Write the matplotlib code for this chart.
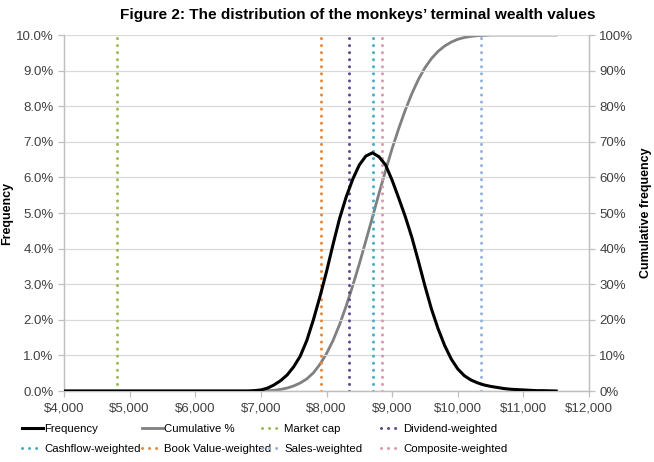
import numpy as np
import matplotlib.pyplot as plt
from matplotlib.lines import Line2D
from matplotlib.ticker import FuncFormatter

plt.rcParams['font.family'] = ['Liberation Sans', 'DejaVu Sans']

# terminal wealth ($), one point every $100
wealth = np.arange(4000, 11600, 100)

# frequency (%), zero below $6,900
freq_tail = [0.01, 0.03, 0.08, 0.17, 0.29, 0.45, 0.68, 0.98, 1.42, 2.00,
             2.65, 3.35, 4.12, 4.85, 5.45, 5.95, 6.35, 6.60, 6.69,
             6.58, 6.35, 5.92, 5.42, 4.90, 4.32, 3.65, 2.95, 2.30, 1.75,
             1.28, 0.90, 0.62, 0.43, 0.31, 0.23, 0.17, 0.13, 0.10, 0.07,
             0.05, 0.04, 0.03, 0.02, 0.01, 0.01, 0.005, 0.0]
frequency = [0.0] * (len(wealth) - len(freq_tail)) + freq_tail

# cumulative frequency (%), zero below $7,000
cum_tail = [0.02, 0.08, 0.2, 0.44, 0.83, 1.42, 2.25, 3.4, 5.1, 7.5,
            10.5, 14.2, 18.7, 23.9, 29.6, 35.7, 42.2, 48.8, 55.5, 61.9,
            68.1, 73.7, 78.9, 83.5, 87.5, 90.8, 93.4, 95.4, 96.9, 98.0,
            98.8, 99.3, 99.6, 99.8, 99.9]
cumulative = [0.0] * 30 + cum_tail
cumulative = cumulative + [100.0] * (len(wealth) - len(cumulative))

# terminal wealth of the index strategies
strategies = ['Market cap', 'Dividend-weighted', 'Cashflow-weighted',
              'Book Value-weighted', 'Sales-weighted', 'Composite-weighted']
strategy_wealth = [4800, 8350, 8705, 7920, 10350, 8850]
strategy_colors = ['#9BBB59', '#5F4B8B', '#4BACC6', '#E8883A', '#95B3D7', '#D99AA8']

fig = plt.figure(figsize=(6.54, 4.62), dpi=100)
ax = fig.add_axes([64 / 654, 1 - 391 / 462, 525 / 654, 356 / 462])
ax2 = ax.twinx()

grid_c = '#D9D9D9'
spine_c = '#BFBFBF'
text_c = '#404040'

dots = (0, (0.01, 2.3))
for name, w, c in zip(strategies, strategy_wealth, strategy_colors):
    ax.plot([w, w], [0, 10], color=c, lw=2.2, linestyle=dots,
            dash_capstyle='round', zorder=2)

ax2.plot(wealth, cumulative, color='#808080', lw=2.0, zorder=3)
ax.plot(wealth, frequency, color='black', lw=2.2, zorder=4)
ax.set_zorder(ax2.get_zorder() + 1)
ax.patch.set_visible(False)

ax.set_xlim(4000, 12000)
ax.set_ylim(0, 10)
ax2.set_ylim(0, 100)
ax.set_xticks(range(4000, 12001, 1000))
ax.set_yticks(np.arange(0, 10.01, 1))
ax2.set_yticks(range(0, 101, 10))
ax.xaxis.set_major_formatter(FuncFormatter(lambda v, p: '${:,.0f}'.format(v)))
ax.yaxis.set_major_formatter(FuncFormatter(lambda v, p: '{:.1f}%'.format(v)))
ax2.yaxis.set_major_formatter(FuncFormatter(lambda v, p: '{:.0f}%'.format(v)))

ax.grid(axis='y', color=grid_c, lw=0.9)
ax.set_axisbelow(True)
for a in (ax, ax2):
    a.spines['top'].set_visible(False)
    for s in ('left', 'right', 'bottom'):
        a.spines[s].set_color(spine_c)
        a.spines[s].set_linewidth(0.9)
    a.tick_params(colors=spine_c, labelcolor=text_c, labelsize=9.5,
                  length=4, width=0.9)
ax.tick_params(axis='x', pad=4)

ax.set_ylabel('Frequency', fontsize=9, fontweight='bold', color='black', labelpad=2)
ax2.set_ylabel('Cumulative frequency', fontsize=9, fontweight='bold', color='black', labelpad=5)

fig.text(358 / 654, 1 - 15 / 462,
         'Figure 2: The distribution of the monkeys\u2019 terminal wealth values',
         ha='center', va='center', fontsize=11.1, fontweight='bold')

# legend: four columns of two entries
def dot_handle(c):
    return Line2D([], [], color=c, lw=2.2, linestyle=dots, dash_capstyle='round')

entries = [
    [(Line2D([], [], color='black', lw=2.2), 'Frequency'),
     (dot_handle(strategy_colors[2]), 'Cashflow-weighted')],
    [(Line2D([], [], color='#808080', lw=2.0), 'Cumulative %'),
     (dot_handle(strategy_colors[3]), 'Book Value-weighted')],
    [(dot_handle(strategy_colors[0]), 'Market cap'),
     (dot_handle(strategy_colors[4]), 'Sales-weighted')],
    [(dot_handle(strategy_colors[1]), 'Dividend-weighted'),
     (dot_handle(strategy_colors[5]), 'Composite-weighted')],
]
col_x = [22, 142, 262, 381]
for x0, col in zip(col_x, entries):
    h, l = zip(*col)
    leg = fig.legend(h, l, loc='upper left', bbox_to_anchor=(x0 / 654, 1 - 424 / 462),
                     frameon=False, fontsize=8.2, handlelength=1.8, handletextpad=0.15,
                     borderpad=0, borderaxespad=0, labelspacing=0.85)

fig.savefig('out.png', dpi=100)
